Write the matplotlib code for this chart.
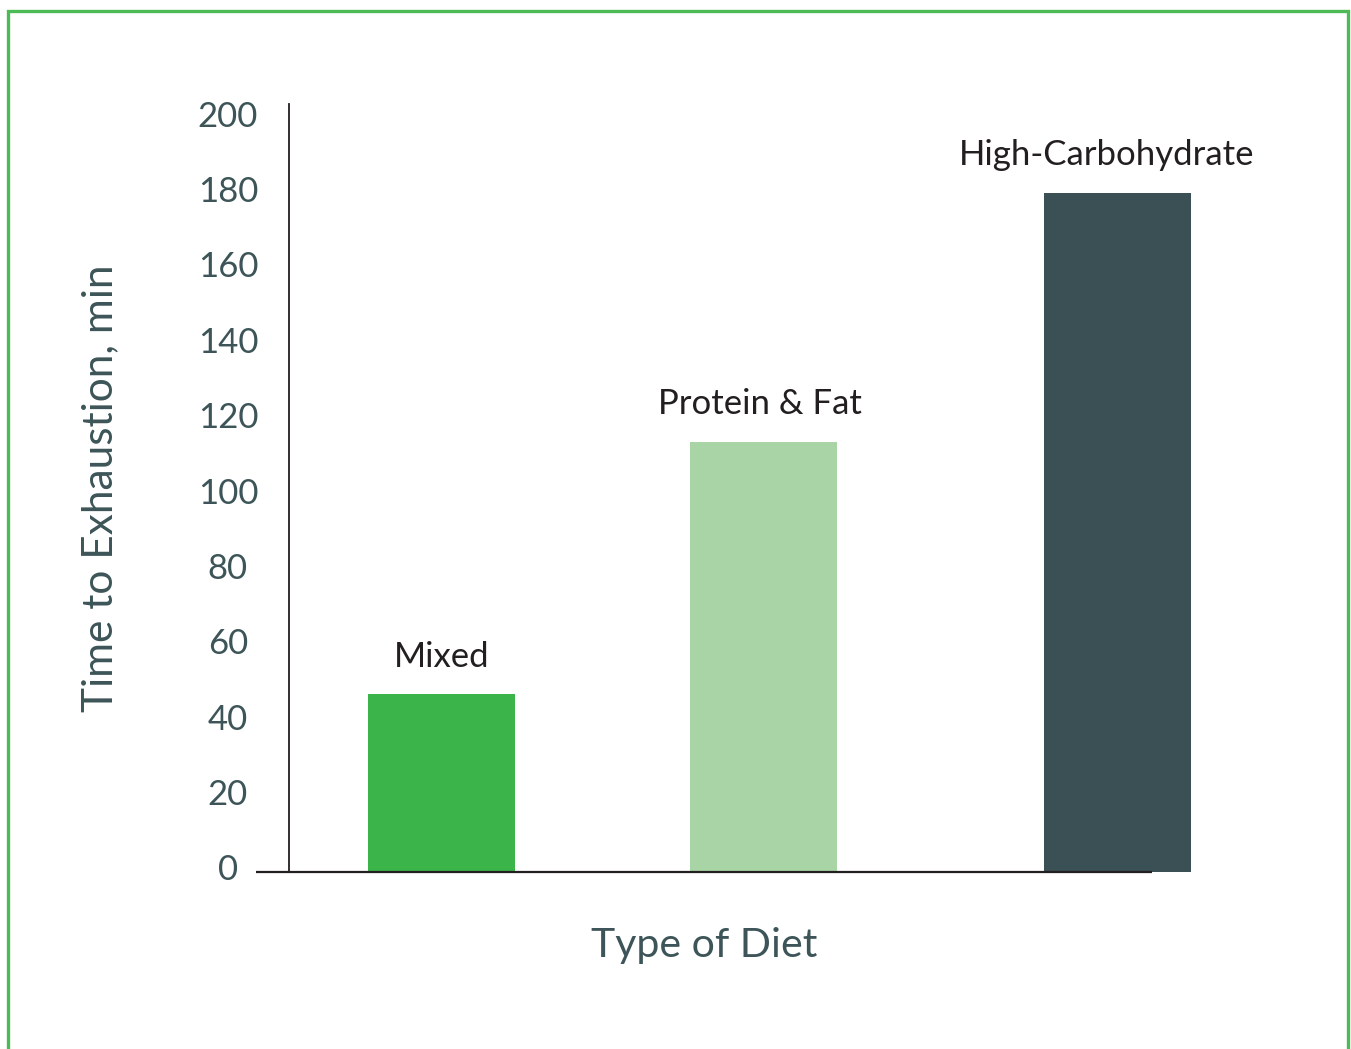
import matplotlib
matplotlib.use("Agg")
import matplotlib.pyplot as plt
from matplotlib.lines import Line2D
from matplotlib.transforms import ScaledTranslation

plt.rcParams["font.family"] = ["Lato", "DejaVu Sans"]

# Data
diets = ["Mixed", "Protein & Fat", "High-Carbohydrate"]
minutes = [47, 114, 180]
bar_colors = ["#3bb54a", "#a8d4a6", "#3a5055"]
y_ticks = [0, 20, 40, 60, 80, 100, 120, 140, 160, 180, 200]

W, H, DPI = 1351, 1049, 100
fig = plt.figure(figsize=(W / DPI, H / DPI), dpi=DPI)
fig.patch.set_facecolor("white")

ax = fig.add_axes([289 / W, 177.5 / H, (1200 - 289) / W, (945 - 177.5) / H])

# Bar layout (category slots; the last one sits a little further out)
xpos = [0.0, 1.0, 2.1]
bar_w = 0.457
ax.bar(xpos, minutes, width=bar_w, color=bar_colors, zorder=2)

ax.set_xlim(-0.474, 2.356)
ax.set_ylim(0, 203.6)

# Category names above each bar
label_dx = [0, -4, -11]
for x, v, name, dx in zip(xpos, minutes, diets, label_dx):
    ax.annotate(name, xy=(x, v), xytext=(dx * 0.72, 27), textcoords="offset points",
                ha="center", va="center", fontsize=25, color="#231f20")

# Axes styling
for side in ("top", "right", "bottom"):
    ax.spines[side].set_visible(False)
ax.spines["left"].set_color("#231f20")
ax.spines["left"].set_linewidth(1.3)
ax.set_xticks([])
ax.set_yticks(y_ticks)
ax.tick_params(axis="y", length=0, pad=44, labelsize=25, labelcolor="#3d5558")
shift = ScaledTranslation(0, 4 / DPI, fig.dpi_scale_trans)
for lab in ax.get_yticklabels():
    lab.set_horizontalalignment("center")
    lab.set_transform(lab.get_transform() + shift)

# Baseline extending past the left spine
ax.plot([-0.576, 2.207], [0, 0], color="#231f20", lw=1.6, clip_on=False, zorder=3,
        solid_capstyle="butt")

# Axis titles
fig.text(100 / W, 1 - 488 / H, "Time to Exhaustion, min", rotation=90,
         ha="center", va="center", fontsize=30.5, color="#3d5558")
fig.text(704 / W, 1 - 945 / H, "Type of Diet", ha="center", va="center",
         fontsize=29.5, color="#3d5558")

# Green frame around the figure (open at the bottom)
frame = "#4cbb55"
xl, xr, yt = 7.5 / W, 1348 / W, 1 - 11 / H
fig.add_artist(Line2D([xl, xl, xr, xr], [0, yt, yt, 0], transform=fig.transFigure,
                      color=frame, lw=2.4, solid_joinstyle="miter"))

fig.savefig("out.png", dpi=DPI, facecolor="white")
